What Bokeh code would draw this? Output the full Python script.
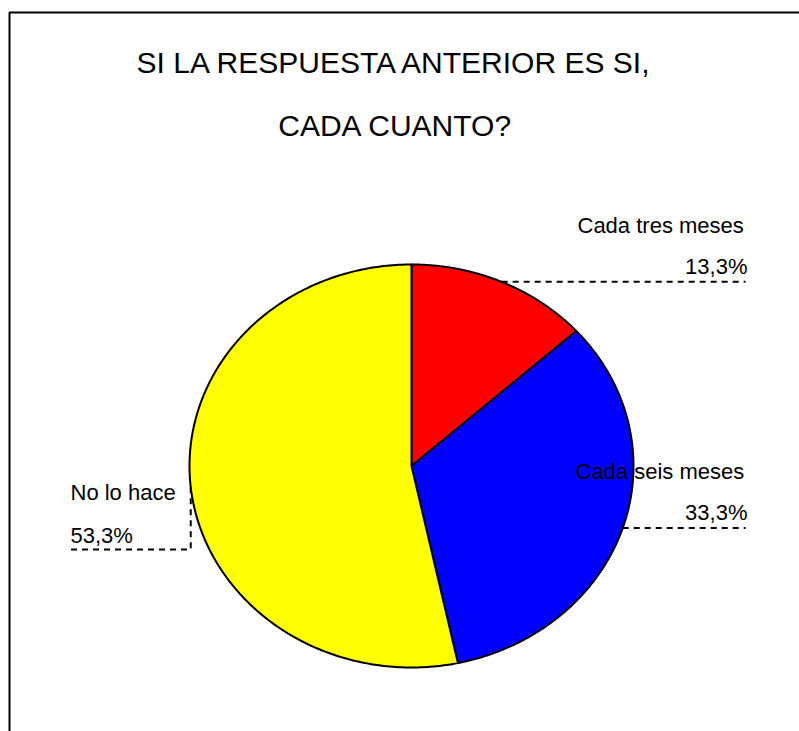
import numpy as np
from bokeh.plotting import figure
from bokeh.models import Range1d
from bokeh.core.properties import value
from bokeh.embed import file_html
from bokeh.resources import INLINE

# ---- data ----
title_lines = ["SI LA RESPUESTA ANTERIOR ES SI,", "CADA CUANTO?"]
categories = ["Cada tres meses", "Cada seis meses", "No lo hace"]
percentages = [13.3, 33.3, 53.3]
pct_labels = ["13,3%", "33,3%", "53,3%"]
colors = ["#ff0000", "#0000ff", "#ffff00"]

# ---- figure: data coordinates equal page pixel coordinates ----
W, H = 799, 731
p = figure(width=W, height=H,
           x_range=Range1d(0, W), y_range=Range1d(H, 0),
           output_backend="svg", toolbar_location=None,
           x_axis_location=None, y_axis_location=None, min_border=0)
p.grid.visible = False
p.outline_line_color = None
p.background_fill_color = "white"
p.border_fill_color = "white"

FONT = value("Liberation Sans")

# outer frame (extends beyond the window to the right and bottom)
p.quad(left=9, right=840, top=12, bottom=780, fill_color=None,
       line_color="black", line_width=2)

# ---- title ----
p.text(x=[395, 395], y=[62, 125], text=title_lines, text_font=FONT,
       text_font_size="30px", text_align="center", text_baseline="middle",
       text_color="black")

# ---- elliptical pie ----
cx, cy, rx, ry = 411, 465.5, 222, 201.5
frac = np.array(percentages) / np.sum(percentages)
starts = 90 - 360 * np.concatenate([[0], np.cumsum(frac)[:-1]])
ends = starts - 360 * frac

xs, ys, mids = [], [], []
for a0, a1 in zip(starts, ends):
    t = np.radians(np.linspace(a0, a1, 240))
    xs.append([cx] + list(cx + rx * np.cos(t)) + [cx])
    ys.append([cy] + list(cy - ry * np.sin(t)) + [cy])
    mids.append(np.radians((a0 + a1) / 2))

p.patches(xs=xs, ys=ys, fill_color=colors, line_color="black", line_width=2,
          line_join="round")

# ---- leader lines ----
right_end = 745
left_end = 70
elbow_y = 549
for m in mids:
    px, py = cx + rx * np.cos(m), cy - ry * np.sin(m)
    if np.cos(m) > 0:
        p.line([px, right_end], [py, py], line_color="black",
               line_width=2, line_dash="6 5")
    else:
        p.line([px, px, left_end], [py, elbow_y, elbow_y], line_color="black",
               line_width=2, line_dash="6 5")

# ---- labels ----
p.text(x=[577, 575, 70], y=[225, 471, 492], text=categories, text_font=FONT,
       text_font_size="22px", text_align="left", text_baseline="middle",
       text_color="black")
p.text(x=[747, 747], y=[266, 512], text=pct_labels[:2], text_font=FONT,
       text_font_size="22px", text_align="right", text_baseline="middle",
       text_color="black")
p.text(x=[70], y=[535], text=pct_labels[2:], text_font=FONT,
       text_font_size="22px", text_align="left", text_baseline="middle",
       text_color="black")

open("out.html", "w").write(file_html(p, INLINE))
